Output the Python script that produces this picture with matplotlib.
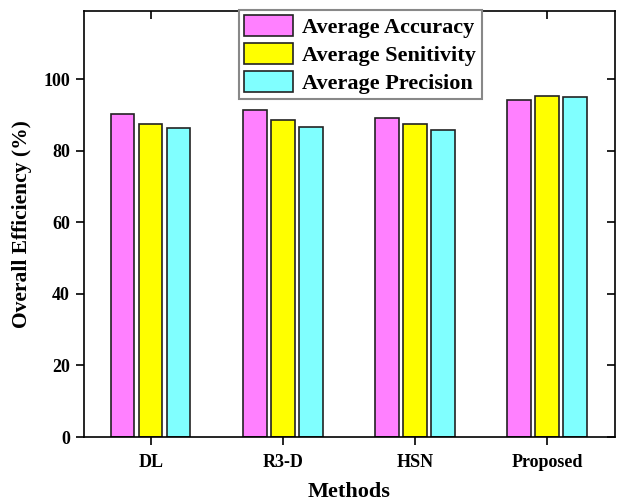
import matplotlib.pyplot as plt
import numpy as np

methods = ['DL', 'R3-D', 'HSN', 'Proposed']
accuracy = [90.3, 91.3, 89.1, 94.1]
sensitivity = [87.4, 88.5, 87.4, 95.3]
precision = [86.3, 86.6, 85.8, 95.0]

plt.rcParams['font.family'] = 'Liberation Serif'
plt.rcParams['font.weight'] = 'bold'

fig = plt.figure(figsize=(6.2, 5.03), dpi=100)
ax = fig.add_axes([0.1355, 0.1312, 0.8565, 0.8468])

x = np.arange(len(methods))
w = 0.177
step = 0.212
ax.bar(x - step, accuracy, w, color='#FF80FF', edgecolor='#222222', linewidth=1.2, label='Average Accuracy')
ax.bar(x, sensitivity, w, color='#FFFF00', edgecolor='#222222', linewidth=1.2, label='Average Senitivity')
ax.bar(x + step, precision, w, color='#80FFFF', edgecolor='#222222', linewidth=1.2, label='Average Precision')

ax.set_xlim(-0.505, 3.515)
ax.set_ylim(0, 119)
ax.set_xticks(x)
ax.set_xticklabels(methods)
ax.set_yticks([0, 20, 40, 60, 80, 100])
ax.tick_params(axis='both', direction='out', length=6, width=1.2, labelsize=13)
ax.tick_params(axis='x', pad=6)
ax.tick_params(axis='y', pad=4)
ax.tick_params(top=True, right=True, which='major')
for t in ax.xaxis.get_major_ticks():
    t.tick2line.set_marker(3)
for t in ax.yaxis.get_major_ticks():
    t.tick2line.set_marker(0)
for s in ax.spines.values():
    s.set_linewidth(1.2)

ax.set_xlabel('Methods', fontsize=16, fontweight='bold', labelpad=8)
ax.set_ylabel('Overall Efficiency (%)', fontsize=15.5, fontweight='bold', labelpad=8)

leg = ax.legend(loc='upper center', bbox_to_anchor=(0.52, 1.003), fontsize=16,
                handlelength=2.2, handleheight=1.05, labelspacing=0.22,
                handletextpad=0.4, borderpad=0.25, borderaxespad=0,
                fancybox=False, framealpha=1)
leg.get_frame().set_edgecolor('#888888')
leg.get_frame().set_linewidth(1.5)

fig.savefig('out.png', dpi=100)
